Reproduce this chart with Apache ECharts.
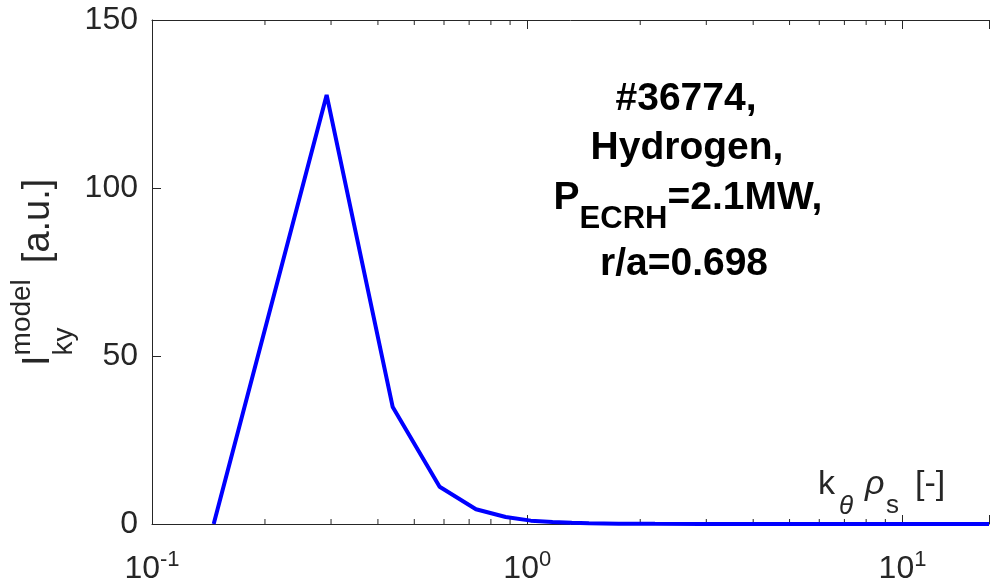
<!DOCTYPE html>
<html>
<head>
<meta charset="utf-8">
<script src="https://cdn.jsdelivr.net/npm/echarts@6/dist/echarts.min.js"></script>
<style>
  html, body { margin: 0; padding: 0; background: #fff; }
  #main { width: 992px; height: 588px; }
</style>
</head>
<body>
<div id="main"></div>
<script>
// k_theta * rho_s values and model intensity
const kRho = [0.146, 0.292, 0.438, 0.584, 0.730, 0.876, 1.022, 1.168, 1.314, 1.460, 1.752, 2.19, 2.92, 4.38, 7.3, 11.68, 17.0]
const iModel = [0, 127.7, 34.8, 11.1, 4.4, 2.1, 1.0, 0.6, 0.35, 0.2, 0.1, 0.05, 0.02, 0.01, 0, 0, 0]

// axis ticks
const xTickVals = [0.1, 1, 10]
const xTickExps = ['-1', '0', '1']
const xMinorTicks = [0.2, 0.3, 0.4, 0.5, 0.6, 0.7, 0.8, 0.9, 2, 3, 4, 5, 6, 7, 8, 9]
const yTicks = [0, 50, 100, 150]

const FONT = '"Liberation Sans", Arial, Helvetica, sans-serif'
const AX = '#262626'

const chart = echarts.init(document.getElementById('main'))

// measure text widths so the sub/superscript runs can be laid out
const ctx = document.createElement('canvas').getContext('2d')
const measure = (t, size, weight, style) => {
  ctx.font = (style || 'normal') + ' ' + (weight || 'normal') + ' ' + size + 'px ' + FONT
  return ctx.measureText(t).width
}
const txt = (t, x, y, size, opts) => {
  opts = opts || {}
  return {
    type: 'text',
    x: x,
    y: y,
    style: {
      text: t,
      fill: opts.fill || '#000',
      font: (opts.style || 'normal') + ' ' + (opts.weight || 'normal') + ' ' + size + 'px ' + FONT,
      align: opts.align || 'left',
      verticalAlign: 'middle'
    }
  }
}
// a run of pieces centred on cx; each piece = [text, size, dy, style]
const run = (pieces, cx, cy, weight, fill) => {
  const widths = pieces.map(p => measure(p[0], p[1], weight, p[3]))
  let x = cx - widths.reduce((a, b) => a + b, 0) / 2
  return pieces.map((p, i) => {
    const el = txt(p[0], x, cy + p[2], p[1], { weight: weight, style: p[3], fill: fill })
    x += widths[i]
    return el
  })
}

// annotation block
const note = [].concat(
  run([['#36774,', 39, 0]], 686, 99, 'bold'),
  run([['Hydrogen,', 39, 0]], 687, 148, 'bold'),
  run([['P', 39, 0], ['ECRH', 31, 21], ['=2.1MW,', 39, 0]], 688, 198, 'bold'),
  run([['r/a=0.698', 39, 0]], 684, 264, 'bold')
)

// x axis name  k_theta rho_s [-]
const xName = [
  txt('k', 818, 485, 34, { fill: AX }),
  txt('θ', 839, 507, 26, { fill: AX, style: 'italic' }),
  txt('ρ', 865, 485, 34, { fill: AX, style: 'italic' }),
  txt('s', 886, 506, 26, { fill: AX }),
  txt('[-]', 915, 485, 34, { fill: AX })
]

// y axis name, rotated
const wI = measure('I', 38)
const wModel = measure('model', 28)
const yName = {
  type: 'group',
  x: 39,
  y: 366,
  rotation: Math.PI / 2,
  children: [
    txt('I', 0, 0, 38, { fill: AX }),
    txt('model', wI, -16.5, 28, { fill: AX }),
    txt('ky', wI, 25, 28, { fill: AX }),
    txt('[a.u.]', wI + wModel + 16, 0, 38, { fill: AX })
  ]
}

const xLabel = (v) => {
  const i = xTickVals.findIndex(t => Math.abs(Math.log10(t) - Math.log10(v)) < 1e-6)
  return i < 0 ? '' : '{b|10}{s|' + xTickExps[i] + '}'
}

const option = {
  animation: false,
  backgroundColor: '#fff',
  grid: { left: 152, right: 0, top: 20, bottom: 64 },
  xAxis: [
    {
      type: 'log',
      logBase: 10,
      min: 0.1,
      max: 17,
      axisLine: { show: true, lineStyle: { color: AX, width: 1 } },
      axisTick: { show: true, inside: true, length: 9, lineStyle: { color: AX } },
      splitLine: { show: false },
      axisLabel: {
        margin: 25,
        color: AX,
        formatter: xLabel,
        rich: {
          b: { fontSize: 32, fontFamily: FONT, color: AX, lineHeight: 40 },
          s: { fontSize: 22, fontFamily: FONT, color: AX, verticalAlign: 'top', lineHeight: 22 }
        }
      }
    },
    {
      type: 'log',
      logBase: 10,
      min: 0.1,
      max: 17,
      position: 'top',
      axisLine: { show: true, lineStyle: { color: AX, width: 1 } },
      axisTick: { show: true, inside: true, length: 9, lineStyle: { color: AX } },
      axisLabel: { show: false },
      splitLine: { show: false }
    }
  ],
  yAxis: {
    type: 'value',
    min: yTicks[0],
    max: yTicks[yTicks.length - 1],
    interval: 50,
    axisLine: { show: true, lineStyle: { color: AX, width: 1 } },
    axisTick: { show: true, inside: true, length: 9, lineStyle: { color: AX } },
    splitLine: { show: false },
    axisLabel: { color: AX, fontSize: 32, fontFamily: FONT, margin: 14 }
  },
  series: [
    {
      type: 'line',
      data: kRho.map((k, i) => [k, iModel[i]]),
      showSymbol: false,
      lineStyle: { color: '#0000ff', width: 4 },
      z: 5
    },
    {
      // minor ticks of the log axis, bottom and top
      type: 'custom',
      silent: true,
      data: xMinorTicks.map(v => [v, 0]),
      renderItem: (params, api) => {
        const b = api.coord([api.value(0), yTicks[0]])
        const t = api.coord([api.value(0), yTicks[yTicks.length - 1]])
        const st = { stroke: AX, lineWidth: 1 }
        return {
          type: 'group',
          children: [
            { type: 'line', shape: { x1: b[0], y1: b[1], x2: b[0], y2: b[1] - 5 }, style: st },
            { type: 'line', shape: { x1: t[0], y1: t[1], x2: t[0], y2: t[1] + 5 }, style: st }
          ]
        }
      },
      z: 3
    }
  ],
  graphic: [].concat(note, xName, [yName])
}

chart.setOption(option)
</script>
</body>
</html>
